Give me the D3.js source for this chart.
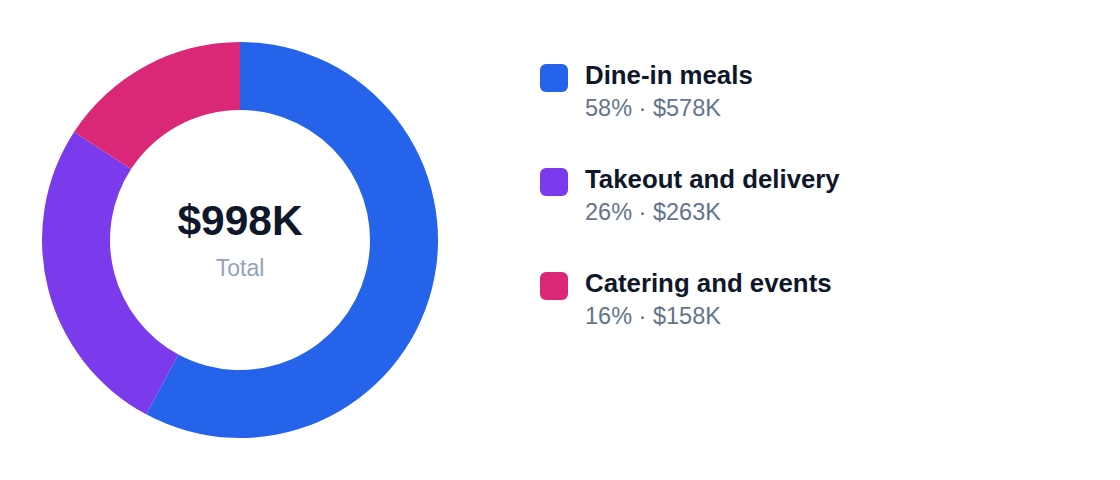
<!DOCTYPE html>
<html>
<head>
<meta charset="utf-8">
<script src="https://cdn.jsdelivr.net/npm/d3@7/dist/d3.min.js"></script>
<style>
  html, body { margin: 0; padding: 0; background: #ffffff; }
  svg { display: block; font-family: "Helvetica Neue", Helvetica, Arial, "Liberation Sans", sans-serif; }
</style>
</head>
<body>
<svg id="chart" width="1120" height="480"></svg>
<script>
const categories = ["Dine-in meals", "Takeout and delivery", "Catering and events"];
const values = [578, 263, 158];
const percentLabels = ["58%", "26%", "16%"];
const valueLabels = ["$578K", "$263K", "$158K"];
const colors = ["#2563eb", "#7c3aed", "#db2777"];
const totalLabel = "$998K";
const totalCaption = "Total";

const svg = d3.select("#chart");
const cx = 240, cy = 240, outerR = 198, innerR = 130;

const data = categories.map((c, i) => ({ name: c, value: values[i], color: colors[i], pct: percentLabels[i], val: valueLabels[i] }));

const pie = d3.pie().sort(null).value(d => d.value);
const arc = d3.arc().innerRadius(innerR).outerRadius(outerR);

const g = svg.append("g").attr("transform", `translate(${cx},${cy})`);
g.selectAll("path")
  .data(pie(data))
  .join("path")
  .attr("d", arc)
  .attr("fill", d => d.data.color);

g.append("text")
  .attr("x", 0).attr("y", -5)
  .attr("text-anchor", "middle")
  .attr("font-size", 42.5)
  .attr("font-weight", 700)
  .attr("fill", "#0f172a")
  .text(totalLabel);

g.append("text")
  .attr("x", 0).attr("y", 36)
  .attr("text-anchor", "middle")
  .attr("font-size", 23)
  .attr("fill", "#94a3b8")
  .text(totalCaption);

const legendY = d3.scaleBand().domain(categories).range([64, 376]);
const legend = svg.append("g").attr("transform", "translate(540,0)");
const items = legend.selectAll("g.item")
  .data(data)
  .join("g")
  .attr("class", "item")
  .attr("transform", d => `translate(0,${legendY(d.name)})`);

items.append("rect")
  .attr("x", 0).attr("y", 0)
  .attr("width", 28).attr("height", 28)
  .attr("rx", 6)
  .attr("fill", d => d.color);

items.append("text")
  .attr("x", 45).attr("y", 19.5)
  .attr("font-size", 25.8)
  .attr("font-weight", 700)
  .attr("fill", "#0f172a")
  .text(d => d.name);

items.append("text")
  .attr("x", 45).attr("y", 52)
  .attr("font-size", 23.5)
  .attr("fill", "#64748b")
  .text(d => `${d.pct} · ${d.val}`);
</script>
</body>
</html>
